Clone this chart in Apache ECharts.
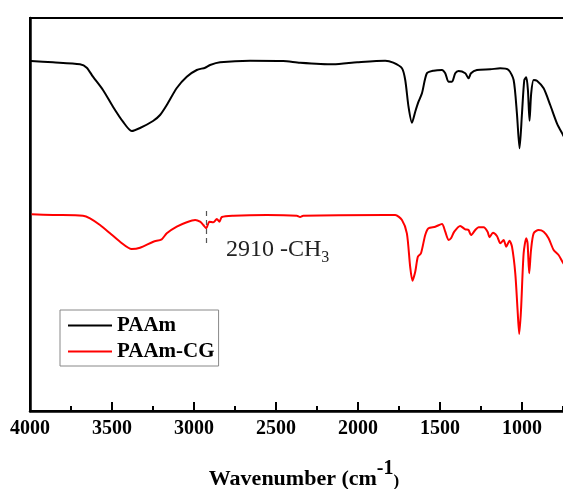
<!DOCTYPE html>
<html>
<head>
<meta charset="utf-8">
<script src="https://cdn.jsdelivr.net/npm/echarts@6/dist/echarts.min.js"></script>
<style>
  html, body { margin: 0; padding: 0; background: #fff; }
  #chart { width: 563px; height: 489px; }
</style>
</head>
<body>
<div id="chart"></div>
<script>
// wavenumber (cm-1), transmittance (arbitrary units)
const paamWn = [3994, 3860, 3695, 3654, 3616, 3555, 3494, 3433, 3380, 3329, 3250, 3207, 3166, 3105, 3044, 2983, 2932, 2902, 2841, 2658, 2456, 2353, 2151, 2005, 1834, 1785, 1732, 1712, 1692, 1671, 1651, 1631, 1610, 1580, 1539, 1488, 1468, 1448, 1427, 1407, 1387, 1346, 1326, 1311, 1275, 1193, 1133, 1082, 1051, 1031, 1015, 1000, 986, 974, 964, 954, 944, 929, 909, 868, 828, 787, 750, 730];
const paamT = [350, 348.7, 346.7, 343.3, 334.3, 321, 304.3, 289.3, 280, 283, 290, 296, 306, 323, 334.3, 341, 343.3, 346, 348.7, 350.3, 350, 348.3, 346.7, 348.7, 350.3, 348.3, 342.7, 331, 304.3, 288.3, 299.3, 309.3, 317.7, 337.7, 340.3, 341, 337.7, 329.3, 329.3, 337.7, 340, 337.7, 332.7, 337.7, 341, 341.7, 342.7, 341, 331, 297.7, 262.7, 297.7, 331, 333.7, 321, 290.3, 317.7, 331, 330.3, 322.7, 306, 287.7, 276, 270];

const cgWn = [3990, 3860, 3677, 3634, 3573, 3512, 3451, 3380, 3329, 3248, 3197, 3166, 3105, 3044, 2993, 2963, 2943, 2926, 2906, 2882, 2861, 2845, 2830, 2760, 2556, 2373, 2353, 2334, 1834, 1773, 1732, 1702, 1682, 1668, 1651, 1635, 1616, 1590, 1570, 1529, 1488, 1468, 1448, 1433, 1413, 1377, 1346, 1326, 1311, 1285, 1265, 1234, 1210, 1198, 1177, 1153, 1132, 1112, 1096, 1076, 1061, 1041, 1027, 1017, 1006, 990, 974, 966, 956, 945, 929, 899, 868, 838, 807, 777, 750, 730];
const cgT = [196.7, 196, 195.3, 192.7, 186, 177.7, 169.3, 162, 163.3, 169.3, 171.7, 177.7, 184.3, 188.7, 191, 189.3, 186, 182.7, 189.3, 188.7, 192, 189.3, 194, 195.3, 196, 195.3, 194, 195.3, 196, 196, 191, 177.7, 144.3, 130.3, 139.3, 154.3, 157.7, 176, 182.7, 184.3, 187, 179.3, 171, 172.7, 179.3, 185, 181.7, 181, 176, 181, 183.7, 183.7, 179.3, 173.7, 178.3, 175, 167.7, 171, 164.3, 170.3, 164.3, 137.7, 101, 77, 101, 157.7, 172.7, 167.7, 137.7, 161, 177.7, 181, 179.3, 172.7, 161, 156, 148.3, 144];

const seriesNames = ["PAAm", "PAAm-CG"];
const xTicks = [4000, 3500, 3000, 2500, 2000, 1500, 1000, 500];

const markWn = 2925;
const markSpan = [168, 203];
const labelAt = [2805, 161];

const serif = "'Liberation Serif', 'Times New Roman', serif";

const pairs = (xs, ys) => xs.map((x, i) => [x, ys[i]]);

const chart = echarts.init(document.getElementById("chart"));

chart.setOption({
  backgroundColor: "#fff",
  animation: false,
  grid: {
    left: 30,
    top: 18,
    width: 574,
    bottom: 78,
    outerBoundsMode: "none",
    containLabel: false,
    show: true,
    borderColor: "#000",
    borderWidth: 2,
    backgroundColor: "transparent",
  },
  legend: {
    orient: "vertical",
    left: 60,
    top: 310,
    padding: [5, 4, 4, 8],
    itemGap: 5,
    itemWidth: 44,
    itemHeight: 2,
    icon: "rect",
    borderColor: "#888",
    borderWidth: 1,
    backgroundColor: "#fff",
    textStyle: { fontFamily: serif, fontWeight: "bold", fontSize: 21, color: "#000" },
    data: seriesNames,
  },
  xAxis: {
    type: "value",
    inverse: true,
    min: xTicks[xTicks.length - 1],
    max: xTicks[0],
    interval: 500,
    axisLine: { show: true, lineStyle: { color: "#000", width: 2.5 } },
    axisTick: { show: true, inside: true, length: 9, lineStyle: { color: "#000", width: 2 } },
    minorTick: { show: true, splitNumber: 2, length: 5, lineStyle: { color: "#000", width: 2 } },
    splitLine: { show: false },
    axisLabel: {
      margin: 8,
      fontFamily: serif,
      fontWeight: "bold",
      fontSize: 20,
      color: "#000",
      formatter: (v) => String(v),
    },
    name: "{a|Wavenumber (cm}{s|-1}{p|)}",
    nameLocation: "middle",
    nameGap: 48,
    nameTextStyle: {
      padding: [0, 26, 0, 0],
      rich: {
        a: { fontFamily: serif, fontWeight: "bold", fontSize: 22, color: "#000", verticalAlign: "bottom" },
        s: { fontFamily: serif, fontWeight: "bold", fontSize: 20, color: "#000", verticalAlign: "bottom", padding: [0, 0, 11, 0] },
        p: { fontFamily: serif, fontWeight: "bold", fontSize: 17, color: "#000", verticalAlign: "bottom" },
      },
    },
  },
  yAxis: {
    type: "value",
    min: 0,
    max: 393,
    axisLine: { show: true, lineStyle: { color: "#000", width: 2.5 } },
    axisTick: { show: false },
    axisLabel: { show: false },
    splitLine: { show: false },
  },
  series: [
    {
      name: seriesNames[0],
      type: "line",
      data: pairs(paamWn, paamT),
      showSymbol: false,
      smooth: 0.25,
      lineStyle: { color: "#000", width: 2 },
      itemStyle: { color: "#000" },
    },
    {
      name: seriesNames[1],
      type: "line",
      data: pairs(cgWn, cgT),
      showSymbol: false,
      smooth: 0.25,
      lineStyle: { color: "#f00", width: 2 },
      itemStyle: { color: "#f00" },
      markLine: {
        silent: true,
        symbol: "none",
        label: { show: false },
        lineStyle: { color: "#555", type: [5, 4], width: 1.2 },
        data: [[{ coord: [markWn, markSpan[0]] }, { coord: [markWn, markSpan[1]] }]],
      },
      markPoint: {
        silent: true,
        symbol: "circle",
        symbolSize: 0,
        data: [{ coord: labelAt }],
        label: {
          show: true,
          position: "right",
          distance: 0,
          formatter: "{n|2910 -CH}{b|3}",
          rich: {
            n: { fontFamily: serif, fontSize: 24, color: "#222", verticalAlign: "bottom" },
            b: { fontFamily: serif, fontSize: 16, color: "#222", verticalAlign: "bottom", padding: [0, 0, -4, 0] },
          },
        },
      },
    },
  ],
});
</script>
</body>
</html>
